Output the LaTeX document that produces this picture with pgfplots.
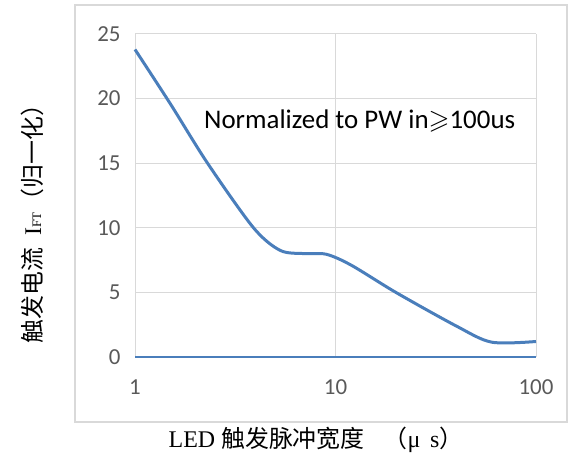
\documentclass[border=0pt]{standalone}
\usepackage{amssymb}
\usepackage{fontspec}
\setmainfont{Carlito}
\newfontfamily\cjk{Noto Sans CJK SC}
\newfontfamily\serif{Liberation Serif}
\usepackage{pgfplots}
\pgfplotsset{compat=1.18}
\definecolor{lineblue}{HTML}{4A7EBB}
\definecolor{gridgray}{HTML}{D9D9D9}
\definecolor{labelgray}{HTML}{595959}
\begin{document}
\begin{tikzpicture}[x=1bp,y=1bp]
\path[use as bounding box] (0,0) rectangle (573,457);
\draw[gridgray, line width=1.2bp] (75,35) rectangle (567,452);
\begin{axis}[
    at={(135bp,100bp)}, anchor=south west,
    scale only axis, width=401bp, height=323bp,
    xmode=log, xmin=1, xmax=100,
    ymin=0, ymax=25,
    xtick={1,10,100}, xticklabels={1,10,100},
    ytick={0,5,10,15,20,25},
    grid=major,
    major grid style={draw=gridgray, line width=1bp},
    axis line style={draw=none},
    tick style={draw=none},
    ticklabel style={font=\fontsize{23}{23}\selectfont, text=labelgray},
    /pgf/number format/assume math mode=true,
    xticklabel style={yshift=-19bp},
    yticklabel style={xshift=-11bp},
    clip=false,
]
\addplot[lineblue, line width=3bp, smooth] coordinates {
    (1,23.8)(1.5,19.6)(2.3,15)(3.9,10)(5.3,8.25)(7,8.0)(9,7.95)
    (12,7.1)(20,5)(40,2.4)(60,1.15)(100,1.2)
};
\addplot[lineblue, line width=1.5bp] coordinates {(1,0)(100,0)};
\node[font=\fontsize{27}{27}\selectfont, text=black] at (axis cs:13.2,18.3)
    {Normalized to PW in$\geqslant$100us};
\end{axis}
\node[font=\fontsize{24}{24}\selectfont] at (316,17)
    {\serif LED \cjk 触发脉冲宽度\hspace{0.8em}（\serif μ\hspace{0.4em}s\cjk ）};
\node[font=\fontsize{24}{24}\selectfont, rotate=90] at (32,239)
    {\cjk 触发电流\hspace{0.5em}\serif I{\fontsize{13}{13}\selectfont FT}\cjk （归一化）};
\end{tikzpicture}
\end{document}
